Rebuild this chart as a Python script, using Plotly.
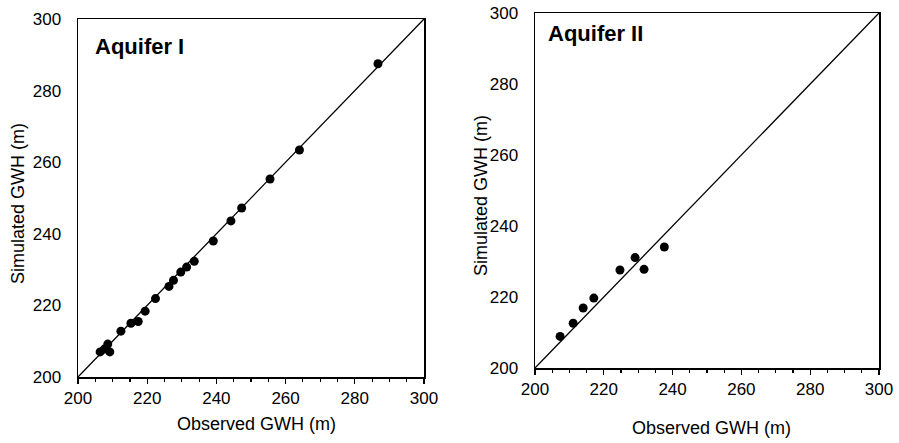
import plotly.graph_objects as go

# Aquifer I: observed vs simulated groundwater head (m)
obs_1 = [206.4, 207.6, 208.6, 209.2, 212.4, 215.3, 217.4, 219.4, 222.4, 226.3,
         227.6, 229.7, 231.4, 233.6, 239.1, 244.2, 247.3, 255.5, 264.0, 286.7]
sim_1 = [207.0, 207.8, 209.2, 207.0, 212.8, 215.0, 215.5, 218.4, 221.9, 225.3,
         227.0, 229.3, 230.7, 232.3, 238.0, 243.6, 247.2, 255.3, 263.4, 287.5]

# Aquifer II
obs_2 = [207.3, 211.1, 214.0, 217.1, 224.7, 229.1, 231.7, 237.6]
sim_2 = [208.9, 212.6, 216.9, 219.7, 227.6, 231.1, 227.8, 234.1]

line_1to1 = [200, 300]
tick_vals = [200, 220, 240, 260, 280, 300]
tick_text = ["200", "220", "240", "260", "280", "300"]

FONT = "Liberation Sans, Arial, sans-serif"

W, H = 899, 443


def px(X):
    return X / W


def py(Y):
    return 1 - Y / H


fig = go.Figure()
for obs, sim, xa, ya in [(obs_1, sim_1, "x", "y"), (obs_2, sim_2, "x2", "y2")]:
    fig.add_trace(go.Scatter(x=line_1to1, y=line_1to1, mode="lines",
                             line=dict(color="black", width=1.3),
                             xaxis=xa, yaxis=ya, showlegend=False, hoverinfo="skip"))
    fig.add_trace(go.Scatter(x=obs, y=sim, mode="markers",
                             marker=dict(color="black", size=9),
                             xaxis=xa, yaxis=ya, showlegend=False))


def xax(d0, d1):
    return dict(domain=[px(d0), px(d1)], range=[200, 300], tickvals=tick_vals,
                ticktext=tick_text, ticks="outside", ticklen=5, tickwidth=1.2,
                tickcolor="black", showline=True, linecolor="black", linewidth=1.5,
                mirror=True, showgrid=False, zeroline=False, automargin=False,
                minor=dict(dtick=5, tick0=200, ticks="outside", ticklen=3,
                           tickcolor="black", tickwidth=1.2),
                tickfont=dict(family=FONT, size=17, color="black"),
                ticklabelstandoff=0, ticklabeloverflow="allow", fixedrange=True)


def yax(d0, d1, anchor):
    return dict(domain=[py(d1), py(d0)], range=[200, 300], tickvals=tick_vals,
                ticktext=tick_text, ticks="", showline=True, linecolor="black",
                linewidth=1.5, mirror=True, showgrid=False, zeroline=False,
                automargin=False,
                tickfont=dict(family=FONT, size=17, color="black"),
                ticklabelstandoff=12, ticklabeloverflow="allow",
                anchor=anchor, fixedrange=True)


fig.update_layout(
    width=W, height=H,
    margin=dict(l=0, r=0, t=0, b=0, autoexpand=False),
    paper_bgcolor="white", plot_bgcolor="white",
    xaxis=dict(xax(78, 424), anchor="y"),
    yaxis=yax(19, 377, "x"),
    xaxis2=dict(xax(535, 879), anchor="y2"),
    yaxis2=yax(13, 368, "x2"),
)

ann = [
    dict(text="<b>Aquifer I</b>", x=px(93), y=py(46), xanchor="left", yanchor="middle",
         font=dict(family=FONT, size=22, color="black")),
    dict(text="<b>Aquifer II</b>", x=px(546), y=py(34), xanchor="left", yanchor="middle",
         font=dict(family=FONT, size=22, color="black")),
    dict(text="Observed GWH (m)", x=px(256), y=py(424), xanchor="center", yanchor="middle",
         font=dict(family=FONT, size=18, color="black")),
    dict(text="Observed GWH (m)", x=px(711), y=py(428), xanchor="center", yanchor="middle",
         font=dict(family=FONT, size=18, color="black")),
    dict(text="Simulated GWH (m)", x=px(18), y=py(204), xanchor="center", yanchor="middle",
         textangle=-90, font=dict(family=FONT, size=18, color="black")),
    dict(text="Simulated GWH (m)", x=px(481), y=py(196), xanchor="center", yanchor="middle",
         textangle=-90, font=dict(family=FONT, size=18, color="black")),
]
for a in ann:
    a.update(xref="paper", yref="paper", showarrow=False)
fig.update_layout(annotations=ann)

# remove the default page margin so the figure fills the window exactly
fig.write_html("out.html",
               config={"displayModeBar": False, "staticPlot": True},
               post_script="document.body.style.margin='0';"
                           "document.body.style.overflow='hidden';")
